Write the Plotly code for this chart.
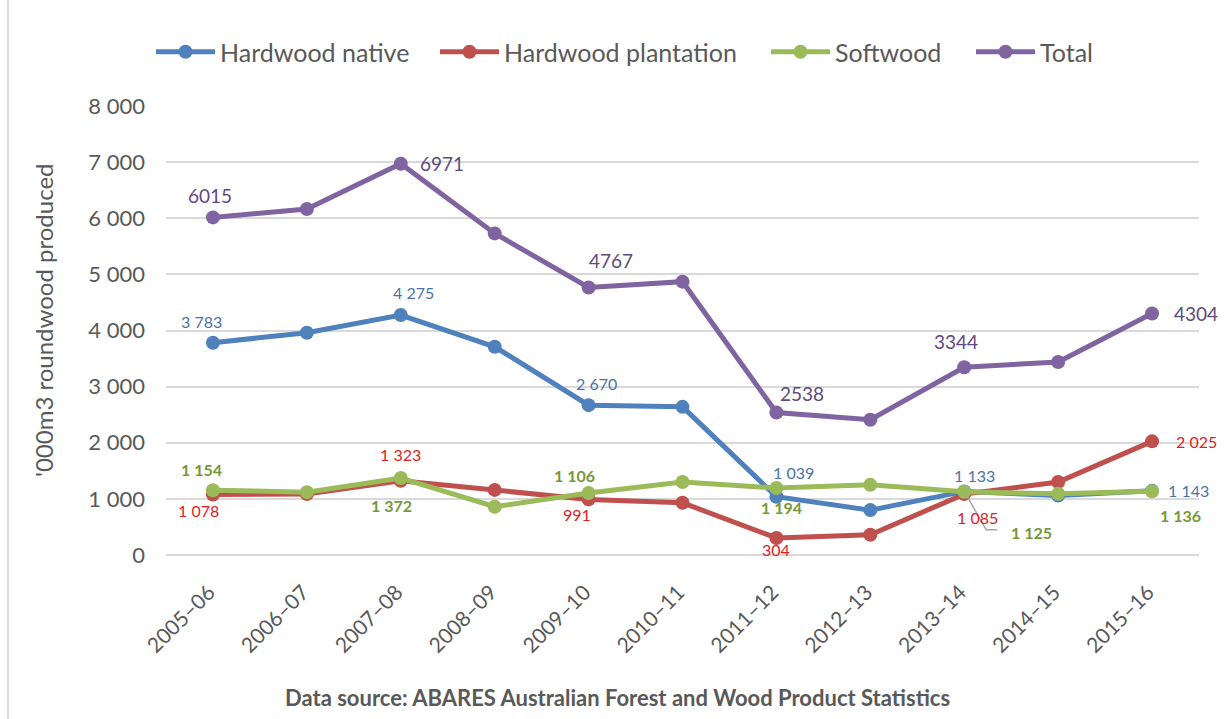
import plotly.graph_objects as go

categories = ["2005–06", "2006–07", "2007–08", "2008–09", "2009–10", "2010–11",
              "2011–12", "2012–13", "2013–14", "2014–15", "2015–16"]
hardwood_native = [3783, 3960, 4275, 3710, 2670, 2640, 1039, 800, 1133, 1060, 1143]
hardwood_plantation = [1078, 1085, 1323, 1160, 991, 930, 304, 360, 1085, 1300, 2025]
softwood = [1154, 1120, 1372, 860, 1106, 1300, 1194, 1250, 1125, 1090, 1136]
total = [6015, 6165, 6971, 5730, 4767, 4870, 2538, 2410, 3344, 3440, 4304]

series_names = ["Hardwood native", "Hardwood plantation", "Softwood", "Total"]
series_values = [hardwood_native, hardwood_plantation, softwood, total]
line_colors = ["#4F81BD", "#C0504D", "#9BBB59", "#8064A2"]
label_colors = ["#4A72A8", "#E0201F", "#76983A", "#5F4A80"]
labeled_idx = [0, 2, 4, 6, 8, 10]
legend_ids = ["legend", "legend2", "legend3", "legend4"]
legend_x_px = [151, 435, 766, 971]

# label offsets (pixels) per series for labeled points: (xshift, yshift, xanchor)
label_offsets = [
    [(-11, 21, "center"), (13, 23, "center"), (8, 22, "center"), (17, 24, "center"), (10, 16, "center"), (14, 0, "left")],
    [(-14, -16, "center"), (0, 26, "center"), (-12, -15, "center"), (0, -12, "center"), (13, -23, "center"), (22, 0, "left")],
    [(-11, 21, "center"), (-9, -27, "center"), (-14, 17, "center"), (5, -20, "center"), (45, -41, "left"), (28, -24, "center")],
    [(-3, 22, "center"), (17, 0, "left"), (22, 27, "center"), (26, 19, "center"), (-8, 26, "center"), (20, 0, "left")],
]
label_sizes = [16, 16, 16, 19]
label_bold = [False, False, True, False]

FONT = "Lato"
GREY = "#595959"
PW, PH, L, B = 1033, 449, 166, 555  # plot area geometry in px

fig = go.Figure()
for name, vals, col, lg in zip(series_names, series_values, line_colors, legend_ids):
    fig.add_trace(go.Scatter(
        x=categories, y=vals, name=name, mode="lines+markers",
        line=dict(color=col, width=5),
        marker=dict(color=col, size=14),
        cliponaxis=False, legend=lg,
    ))

annotations = []
for s, vals in enumerate(series_values):
    for k, i in enumerate(labeled_idx):
        xs, ys, xa = label_offsets[s][k]
        v = vals[i]
        txt = f"{v:,}".replace(",", " ") if s < 3 else f"{v}"
        if label_bold[s]:
            txt = f"<b>{txt}</b>"
        annotations.append(dict(
            x=categories[i], y=v, xref="x", yref="y", text=txt, showarrow=False,
            xshift=xs, yshift=ys, xanchor=xa, yanchor="middle",
            font=dict(family=FONT, size=label_sizes[s], color=label_colors[s]),
        ))

annotations.append(dict(
    x=(43 - L) / PW, y=(B - 320) / PH, xref="paper", yref="paper", text="'000m3 roundwood produced",
    textangle=-90, showarrow=False, xanchor="center", yanchor="middle",
    font=dict(family=FONT, size=24, color=GREY),
))
annotations.append(dict(
    x=(617 - L) / PW, y=(B - 697) / PH, xref="paper", yref="paper",
    text="<b>Data source: ABARES Australian Forest and Wood Product Statistics</b>",
    showarrow=False, xanchor="center", yanchor="middle",
    font=dict(family=FONT, size=22, color=GREY),
))

shapes = [
    dict(type="line", xref="paper", yref="paper", x0=(8 - L) / PW, x1=(8 - L) / PW,
         y0=(B - 719) / PH, y1=B / PH, line=dict(color="#D9D9D9", width=2)),
    dict(type="path", xref="x", yref="y", xsizemode="pixel", ysizemode="pixel",
         xanchor=categories[8], yanchor=softwood[8],
         path="M 2,-3 L 22,-38 L 33,-38", line=dict(color="#A6A6A6", width=1.5)),
]

layout_legends = {}
for lg, xp in zip(legend_ids, legend_x_px):
    layout_legends[lg] = dict(
        orientation="h", x=xp / 1225, y=1 - 52 / 719, xref="container", yref="container",
        xanchor="left", yanchor="middle", font=dict(family=FONT, size=25, color=GREY),
        itemwidth=59, bgcolor="rgba(0,0,0,0)",
    )

fig.update_layout(
    width=1225, height=719,
    margin=dict(l=166, r=26, t=106, b=164),
    paper_bgcolor="white", plot_bgcolor="white",
    separators=". ",
    font=dict(family=FONT, color=GREY),
    showlegend=True,
    annotations=annotations,
    shapes=shapes,
    **layout_legends,
)
fig.update_xaxes(
    type="category", range=[-0.5, len(categories) - 0.5], showgrid=False, zeroline=False,
    showline=False, tickangle=-45, tickfont=dict(family=FONT, size=21, color=GREY),
    ticks="", ticklabelstandoff=20, ticklabelshift=-4,
)
fig.update_yaxes(
    range=[0, 8000], dtick=1000, tickformat=",d", showgrid=True, gridcolor="#D9D9D9",
    gridwidth=2, zeroline=True, zerolinecolor="#D9D9D9", zerolinewidth=2, showline=False,
    tickfont=dict(family=FONT, size=22, color=GREY), ticklabelstandoff=20,
)

fig.write_html("out.html", config={"displayModeBar": False},
               post_script="document.body.style.margin='0';")
